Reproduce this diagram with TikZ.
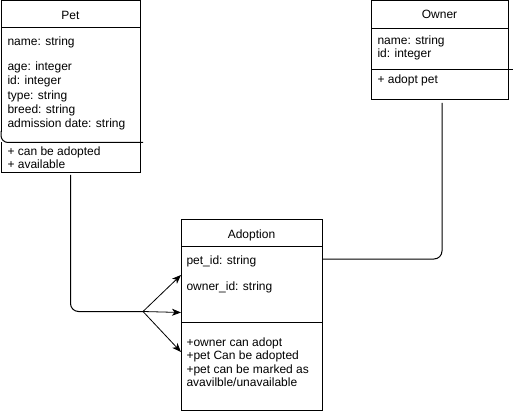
\documentclass[tikz,border=0pt]{standalone}
\usepackage{fontspec}
\setmainfont{Liberation Sans}
\usetikzlibrary{arrows.meta}

\begin{document}
\begin{tikzpicture}[x=1pt, y=-1pt, line width=1pt,
  umlbox/.style={draw=black, anchor=north west, inner sep=0pt, outer sep=0pt},
  title/.style={anchor=base, inner sep=0pt, font=\fontsize{12}{14}\selectfont},
  member/.style={anchor=base west, inner sep=0pt, font=\fontsize{12}{14}\selectfont},
  conn/.style={draw=black, line width=1pt, rounded corners=8pt},
  assoc/.style={draw=black, line width=0.8pt, -{Stealth[length=9pt, width=7pt, inset=2.5pt]}}]

\fill[white] (0,0) rectangle (514,414);
\useasboundingbox (0,0) rectangle (514,414);

% ---- Pet class ----
\node[umlbox, minimum width=139pt, minimum height=172pt] (pet) at (1,1) {};
\draw (pet.north west |- 0,28) -- (pet.north east |- 0,28);
% attribute compartment ends in a rounded corner on the left
\fill[white] (0,132) rectangle (1.8,142);
\draw[rounded corners=7pt] (pet.north west |- 0,131) -- (pet.north west |- 0,142.5) -- (143,142.5);
\node[title] (petT) at (70.5,19.3) {Pet};
\node[member] (petA1) at (7,45.5) {name: string};
\node[member] (petA2) at (7,70.7) {age: integer};
\node[member] (petA3) at (7,84.9) {id: integer};
\node[member] (petA4) at (7,99.1) {type: string};
\node[member] (petA5) at (7,113.3) {breed: string};
\node[member] (petA6) at (7,127.5) {admission date: string};
\node[member] (petM1) at (7,155.3) {+ can be adopted};
\node[member] (petM2) at (7,168.5) {+ available};

% ---- Owner class ----
\node[umlbox, minimum width=137pt, minimum height=99pt] (owner) at (371,1) {};
\draw (owner.north west |- 0,29) -- (owner.north east |- 0,29);
\draw (owner.north west |- 0,70) -- (513,70);
\node[title] (ownT) at (439.5,18.5) {Owner};
\node[member] (ownA1) at (377,45) {name: string};
\node[member] (ownA2) at (377,58) {id: integer};
\node[member] (ownM1) at (377,83.5) {+ adopt pet};

% ---- Adoption class ----
\node[umlbox, minimum width=141pt, minimum height=190pt] (adopt) at (181,220) {};
\draw (adopt.north west |- 0,246.5) -- (adopt.north east |- 0,246.5);
\draw (adopt.north west |- 0,322) -- (adopt.north east |- 0,322);
\node[title] (adT) at (251.5,238) {Adoption};
\node[member] (adA1) at (186,264) {pet\_id: string};
\node[member] (adA2) at (186,290) {owner\_id: string};
\node[member] (adM1) at (186,346) {+owner can adopt};
\node[member] (adM2) at (186,359.5) {+pet Can be adopted};
\node[member] (adM3) at (186,373) {+pet can be marked as};
\node[member] (adM4) at (186,386.5) {avavilble/unavailable};

% ---- connectors ----
\coordinate (fork) at (143,311.5);
\draw[conn] ([yshift=-2pt]pet.south) |- (fork);
\draw[assoc] (fork) -- (adopt.west |- 0,275);
\draw[assoc] (fork) -- (adopt.west |- 0,312.5);
\draw[assoc] (fork) -- (adopt.west |- 0,352);
\draw[conn] ([xshift=2.5pt, yshift=-3pt]owner.south) |- (adopt.east |- 0,259);

\end{tikzpicture}
\end{document}
